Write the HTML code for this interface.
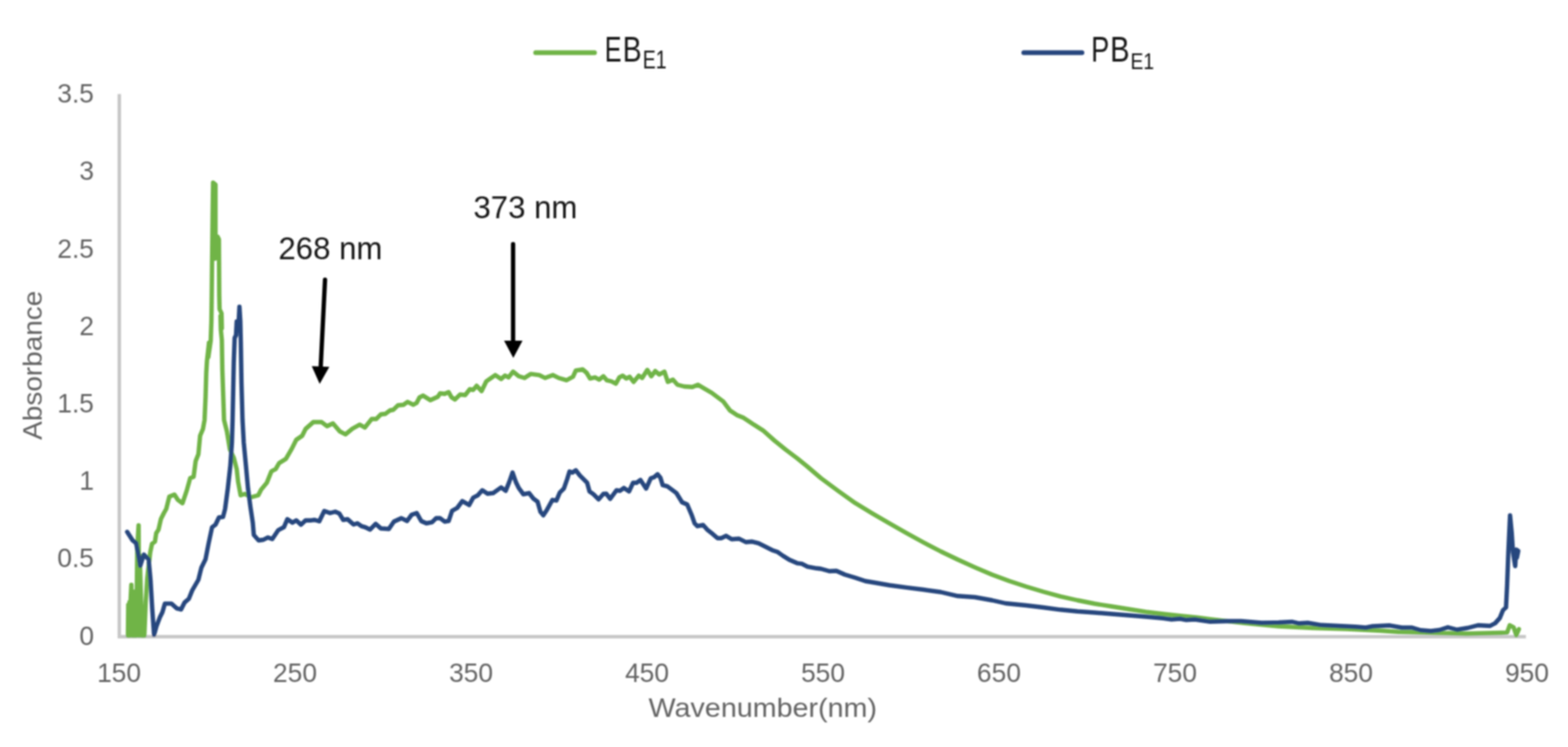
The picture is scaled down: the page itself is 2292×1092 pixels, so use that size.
<!DOCTYPE html>
<html lang="en"><head><meta charset="utf-8"><title>UV-Vis absorbance spectra</title>
<style>
html,body{margin:0;padding:0;background:#fff;}
body{width:2292px;height:1092px;overflow:hidden;}
svg{display:block;}
text{font-family:"Liberation Sans",sans-serif;}
.tick{font-size:38.5px;fill:#636363;}
.title{font-size:38px;fill:#636363;}
.ann{font-size:46px;fill:#141414;}
.leg{font-size:51.5px;fill:#141414;}
.sub{font-size:34px;fill:#141414;}
</style></head><body>
<svg width="2292" height="1092" viewBox="0 0 2292 1092">
<defs><filter id="b" x="-2%" y="-2%" width="104%" height="104%"><feGaussianBlur stdDeviation="1.2"/></filter></defs>
<rect width="2292" height="1092" fill="#fff"/>
<g filter="url(#b)">
<path d="M174.4,137.5 L174.4,930.8 L2230.5,930.8" fill="none" stroke="#c6c6c6" stroke-width="5"/>
<path d="M187.0,929.0 L187.5,884.0 L188.5,929.0 L189.3,880.0 L190.2,929.0 L191.0,875.0 L192.0,855.0 L193.2,929.0 L194.2,868.0 L195.2,929.0 L196.2,865.0 L197.2,929.0 L198.2,870.0 L199.2,929.0 L200.7,800.0 L202.6,768.0 L203.5,929.0 L204.3,812.0 L206.5,890.0 L207.0,929.0 L208.0,888.0 L209.0,929.0 L210.0,892.0 L211.0,929.0 L213.0,880.0 L215.2,845.7 L219.6,807.4 L222.2,795.0 L226.5,791.7 L228.3,779.6 L231.7,774.3 L235.2,758.7 L239.6,750.0 L243.0,744.0 L247.5,726.0 L255.0,723.0 L260.0,730.7 L266.7,735.7 L273.0,717.0 L278.0,699.0 L283.0,697.0 L286.0,674.0 L290.0,664.0 L292.5,637.0 L296.7,627.0 L299.0,614.0 L300.5,580.0 L301.5,545.0 L302.5,528.0 L305.5,501.0 L304.5,522.0 L308.0,498.0 L309.0,470.0 L309.5,432.0 L310.0,382.0 L311.0,300.0 L311.5,267.0 L315.0,270.0 L315.0,340.0 L314.5,378.0 L318.0,346.0 L320.0,350.0 L320.5,432.0 L321.0,452.0 L323.8,458.0 L324.3,480.0 L322.3,462.0 L322.8,482.0 L324.3,497.0 L325.0,540.0 L327.5,614.0 L331.7,630.7 L336.0,657.0 L341.7,669.0 L346.0,685.7 L348.0,704.0 L351.7,724.0 L358.0,722.0 L366.7,727.0 L377.5,724.0 L381.7,715.7 L390.0,705.7 L396.7,689.0 L403.0,685.7 L408.0,677.0 L418.0,670.7 L426.7,655.7 L433.0,643.0 L441.7,637.0 L446.7,627.0 L458.0,617.0 L470.0,617.0 L478.0,623.0 L486.7,619.0 L496.7,630.7 L505.0,635.0 L515.0,626.7 L525.8,620.8 L533.3,625.0 L543.3,612.5 L550.0,612.5 L556.7,605.8 L563.3,605.0 L570.0,600.0 L575.0,599.0 L581.7,592.5 L590.0,591.7 L595.8,587.5 L604.0,591.7 L609.0,589.0 L613.3,580.8 L618.3,578.3 L629.0,585.0 L640.0,580.0 L643.3,575.0 L650.0,575.8 L655.8,573.3 L660.0,580.8 L665.0,584.0 L672.5,576.7 L680.0,577.5 L686.7,569.0 L691.7,570.0 L696.7,564.0 L704.0,571.7 L710.8,557.5 L716.7,553.3 L724.0,548.3 L732.5,554.0 L738.3,549.0 L743.3,551.7 L750.0,543.3 L758.3,550.0 L766.7,552.5 L775.8,546.7 L788.3,548.3 L796.7,552.5 L808.3,548.3 L816.7,552.5 L828.3,555.8 L837.5,550.8 L841.7,541.7 L851.7,540.0 L857.5,545.0 L862.5,553.3 L870.0,551.7 L875.8,555.0 L882.0,550.0 L887.0,555.8 L893.7,557.5 L900.3,560.8 L905.3,551.7 L910.3,549.2 L915.3,553.3 L920.3,550.8 L926.2,558.3 L933.7,549.2 L938.7,552.5 L946.2,540.8 L952.0,550.0 L957.8,542.5 L963.7,547.5 L971.2,543.3 L976.2,558.3 L983.7,555.0 L990.3,562.5 L1000.3,565.0 L1012.0,565.8 L1020.3,562.5 L1028.7,567.5 L1040.3,574.2 L1057.0,586.7 L1067.0,600.0 L1077.0,606.7 L1087.0,610.8 L1102.0,620.8 L1115.3,629.2 L1132.0,644.0 L1148.7,657.5 L1165.3,670.0 L1179.5,681.5 L1200.0,699.0 L1225.0,717.5 L1250.0,735.3 L1275.0,750.5 L1300.0,765.0 L1325.0,779.3 L1350.0,793.0 L1375.0,806.0 L1400.0,818.0 L1425.0,829.3 L1450.0,840.0 L1475.0,849.3 L1500.0,857.5 L1525.0,865.0 L1550.0,871.8 L1575.0,877.5 L1600.0,882.5 L1625.0,886.5 L1650.0,890.5 L1675.0,894.3 L1700.0,897.5 L1725.0,900.3 L1750.0,902.7 L1769.0,905.2 L1819.0,910.9 L1869.0,915.5 L1919.0,918.0 L1969.0,919.5 L2019.0,922.0 L2044.0,923.8 L2094.0,925.0 L2144.0,926.3 L2194.0,925.0 L2203.0,924.6 L2206.8,914.0 L2212.5,917.0 L2216.4,928.5 L2220.2,919.8" fill="none" stroke="#70b446" stroke-width="6.4" stroke-linejoin="round" stroke-linecap="round"/>
<path d="M185.9,777.5 L193.7,789.7 L199.0,794.0 L202.5,812.5 L205.0,827.0 L210.3,810.7 L217.3,817.7 L220.0,847.5 L222.6,891.0 L225.2,928.0 L228.7,915.7 L234.0,901.7 L237.5,894.7 L241.0,882.4 L250.6,882.4 L258.4,889.4 L264.6,891.0 L269.8,880.7 L276.0,875.4 L281.0,863.0 L290.0,847.5 L294.3,830.0 L300.4,817.7 L304.8,795.0 L310.0,770.7 L315.0,767.0 L320.0,756.5 L326.0,755.7 L329.0,744.0 L333.0,714.0 L336.7,680.7 L339.0,647.0 L340.0,614.0 L341.7,530.0 L343.0,494.0 L345.0,490.0 L346.0,470.0 L348.5,478.0 L350.0,448.5 L351.3,470.0 L352.0,500.0 L353.0,560.0 L354.5,614.0 L356.3,647.0 L359.5,680.7 L362.5,714.0 L366.0,740.7 L369.5,764.0 L371.0,782.0 L378.0,790.0 L385.0,789.0 L391.7,785.7 L398.0,788.0 L406.7,775.0 L415.0,770.7 L420.0,759.0 L427.5,764.0 L433.0,760.7 L440.0,767.0 L446.7,760.7 L455.0,760.7 L460.0,760.0 L466.7,762.0 L474.0,747.0 L482.5,750.0 L490.0,748.0 L496.0,750.7 L501.7,760.0 L508.0,759.0 L516.7,766.7 L522.5,765.0 L528.3,769.2 L534.2,770.8 L540.8,774.2 L549.2,765.8 L556.7,772.5 L568.3,773.3 L575.8,762.5 L586.7,757.5 L595.0,761.7 L601.7,752.5 L609.2,750.0 L615.8,761.7 L623.3,765.0 L631.7,763.3 L637.5,757.5 L643.3,757.5 L650.0,762.5 L655.8,761.7 L660.8,746.7 L668.3,742.5 L675.8,732.5 L685.8,738.3 L691.7,727.5 L698.3,724.2 L705.0,716.7 L712.5,721.7 L720.8,720.8 L732.5,712.5 L739.2,717.5 L744.2,705.0 L749.2,690.8 L754.2,705.0 L758.3,713.3 L765.0,722.5 L773.3,720.8 L780.0,729.2 L785.8,733.3 L790.0,748.3 L794.2,753.3 L799.2,745.8 L807.5,730.8 L813.3,731.7 L818.3,720.0 L824.2,714.2 L829.2,700.0 L832.5,689.2 L836.7,690.8 L841.7,687.5 L847.5,695.0 L858.3,705.8 L861.7,718.3 L867.5,722.5 L875.0,730.0 L882.0,722.0 L886.2,721.7 L892.0,729.2 L901.2,716.7 L906.2,717.5 L912.0,713.3 L919.5,718.3 L925.3,705.8 L930.3,705.8 L936.2,701.7 L944.5,714.2 L951.2,699.2 L956.2,697.5 L961.2,693.3 L965.3,698.3 L968.7,709.2 L975.3,710.8 L988.7,720.8 L997.0,734.2 L1004.5,737.5 L1011.2,753.3 L1015.3,765.0 L1019.5,769.2 L1027.8,767.5 L1033.7,774.2 L1042.0,780.8 L1048.7,786.7 L1054.5,786.7 L1061.2,783.3 L1069.5,788.3 L1080.3,787.5 L1090.3,792.5 L1098.7,791.7 L1108.7,794.2 L1118.7,799.2 L1128.7,804.2 L1136.2,806.7 L1144.5,812.5 L1153.7,818.3 L1165.3,823.3 L1172.0,824.2 L1180.3,828.3 L1193.7,830.8 L1200.0,831.5 L1212.5,835.0 L1222.5,834.5 L1235.0,840.0 L1250.0,844.5 L1265.0,849.5 L1280.0,852.0 L1300.0,855.5 L1325.0,858.8 L1350.0,862.0 L1375.0,865.5 L1400.0,871.3 L1425.0,873.0 L1450.0,877.5 L1470.0,882.0 L1500.0,885.0 L1525.0,888.0 L1550.0,891.3 L1575.0,893.8 L1600.0,895.5 L1625.0,897.5 L1650.0,899.5 L1675.0,901.5 L1700.0,903.8 L1712.5,905.5 L1725.0,904.5 L1734.0,906.3 L1746.5,905.5 L1769.0,908.8 L1794.0,908.0 L1814.0,908.0 L1844.0,910.5 L1869.0,910.0 L1889.0,909.0 L1899.0,911.3 L1911.5,910.5 L1931.5,913.8 L1956.5,915.0 L1981.5,916.3 L1996.5,917.5 L2006.5,915.5 L2031.5,914.3 L2049.0,917.5 L2064.0,917.5 L2076.5,921.3 L2091.5,922.5 L2104.0,921.0 L2116.4,917.0 L2129.8,920.5 L2145.2,918.0 L2160.6,914.0 L2178.0,915.0 L2185.6,911.0 L2192.3,903.5 L2197.0,892.0 L2201.4,888.0 L2203.0,855.4 L2204.8,807.3 L2207.3,753.5 L2209.7,778.5 L2211.6,807.3 L2214.8,827.5 L2216.4,803.5 L2219.3,805.4 L2217.3,815.0" fill="none" stroke="#28477e" stroke-width="6.4" stroke-linejoin="round" stroke-linecap="round"/>
<line x1="783" y1="76.9" x2="869" y2="76.9" stroke="#70b446" stroke-width="7" stroke-linecap="round"/>
<line x1="1496.5" y1="76.9" x2="1581.5" y2="76.9" stroke="#28477e" stroke-width="7" stroke-linecap="round"/>
<text class="leg" y="90"><tspan x="884" textLength="24.5" lengthAdjust="spacingAndGlyphs">E</tspan><tspan x="910.2" textLength="27.6" lengthAdjust="spacingAndGlyphs">B</tspan></text>
<text class="sub" x="939.5" y="100.3" textLength="35" lengthAdjust="spacingAndGlyphs" style="font-size:37px">E1</text>
<text class="leg" y="90"><tspan x="1595" textLength="26.5" lengthAdjust="spacingAndGlyphs">P</tspan><tspan x="1622.7" textLength="28.4" lengthAdjust="spacingAndGlyphs">B</tspan></text>
<text class="sub" x="1652.5" y="100.5" textLength="34.5" lengthAdjust="spacingAndGlyphs">E1</text>
<text class="tick" x="174.0" y="996.5" text-anchor="middle">150</text>
<text class="tick" x="431.2" y="996.5" text-anchor="middle">250</text>
<text class="tick" x="688.5" y="996.5" text-anchor="middle">350</text>
<text class="tick" x="945.8" y="996.5" text-anchor="middle">450</text>
<text class="tick" x="1203.0" y="996.5" text-anchor="middle">550</text>
<text class="tick" x="1460.2" y="996.5" text-anchor="middle">650</text>
<text class="tick" x="1717.5" y="996.5" text-anchor="middle">750</text>
<text class="tick" x="1974.8" y="996.5" text-anchor="middle">850</text>
<text class="tick" x="2232.0" y="996.5" text-anchor="middle">950</text>
<text class="tick" x="137.3" y="942.5" text-anchor="end">0</text>
<text class="tick" x="137.3" y="829.3" text-anchor="end">0.5</text>
<text class="tick" x="137.3" y="716.1" text-anchor="end">1</text>
<text class="tick" x="137.3" y="602.9" text-anchor="end">1.5</text>
<text class="tick" x="137.3" y="489.7" text-anchor="end">2</text>
<text class="tick" x="137.3" y="376.5" text-anchor="end">2.5</text>
<text class="tick" x="137.3" y="263.2" text-anchor="end">3</text>
<text class="tick" x="137.3" y="150.0" text-anchor="end">3.5</text>
<text class="title" x="948" y="1048" textLength="334" lengthAdjust="spacingAndGlyphs">Wavenumber(nm)</text>
<text class="title" transform="translate(61,643) rotate(-90)" textLength="218" lengthAdjust="spacingAndGlyphs">Absorbance</text>
<text class="ann" x="407" y="378.7" textLength="152" lengthAdjust="spacingAndGlyphs">268 nm</text>
<text class="ann" x="692" y="319.2" textLength="152" lengthAdjust="spacingAndGlyphs">373 nm</text>
<line x1="475.1" y1="409" x2="468.7" y2="538" stroke="#000" stroke-width="6.3" stroke-linecap="round"/>
<polygon points="455.7,535.2 481.4,536.2 467.3,561.3" fill="#000"/>
<line x1="750" y1="357" x2="750" y2="500" stroke="#000" stroke-width="6.3" stroke-linecap="round"/>
<polygon points="736.8,498 763.8,498 750.3,523.3" fill="#000"/>
</g></svg></body></html>
